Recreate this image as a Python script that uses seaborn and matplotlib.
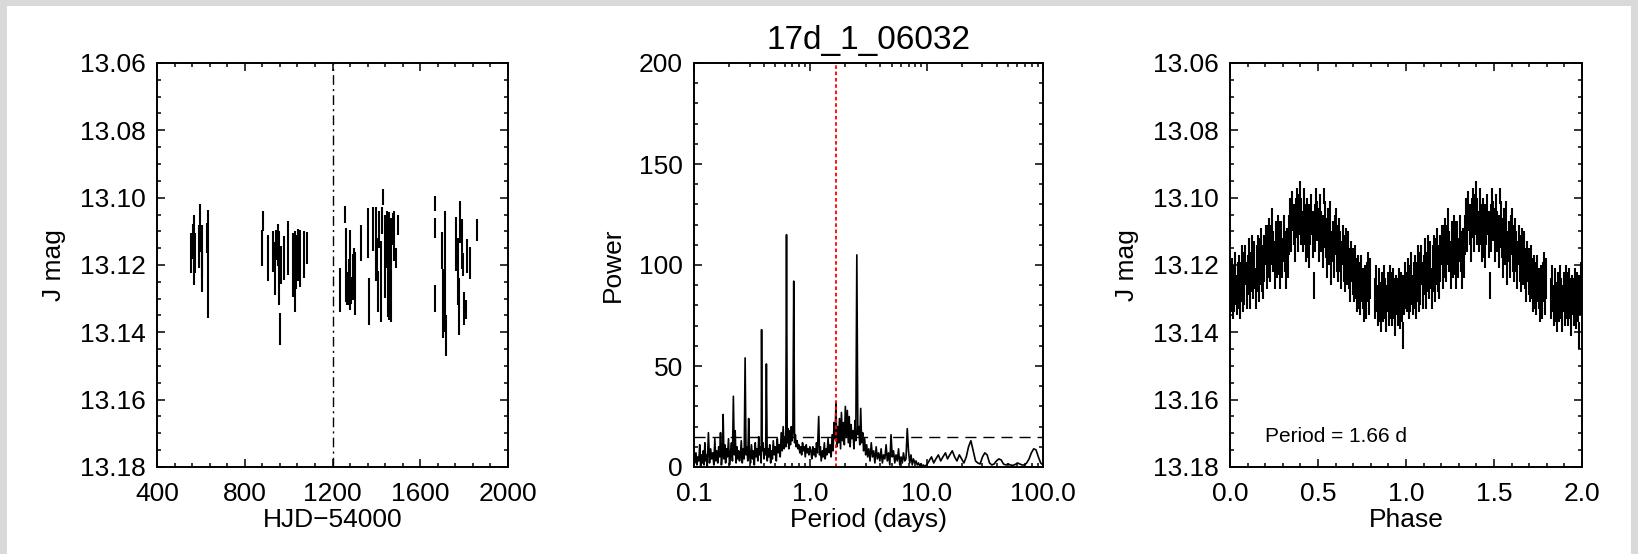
import numpy as np
import matplotlib
matplotlib.use("Agg")
import matplotlib.pyplot as plt
from matplotlib.patches import Rectangle
from matplotlib.ticker import MultipleLocator, FixedLocator, FormatStrFormatter, LogLocator, NullFormatter
import seaborn as sns
import pandas as pd

# ---------------- data ----------------
TITLE = "17d_1_06032"
PERIOD_TEXT = "Period = 1.66 d"
BEST_PERIOD = 1.66
FAP_LEVEL = 15
EPOCH_LINE = 1200

# light curve (HJD-54000, J mag, error)
hjd = [553, 562, 568, 574, 592, 598, 603, 607, 626, 633,
       879, 885, 906, 929, 936, 944, 951, 956, 962, 966, 977, 998, 1022, 1029, 1035, 1044, 1053, 1068, 1083,
       1236, 1259, 1262, 1268, 1274, 1280, 1286, 1292, 1298, 1304, 1329, 1360, 1368, 1386, 1398, 1403, 1409,
       1413, 1419, 1425, 1431, 1439, 1447, 1453, 1459, 1466, 1474, 1481, 1489, 1497,
       1666, 1667, 1668, 1701, 1704, 1712, 1716, 1765, 1771, 1777, 1783, 1789, 1795, 1801, 1810, 1815, 1827, 1860]
jmag = [13.1165, 13.113, 13.1155, 13.1165, 13.1145, 13.109, 13.122, 13.116, 13.112, 13.1197,
        13.115, 13.107, 13.118, 13.116, 13.121, 13.114, 13.114, 13.121, 13.139, 13.120, 13.118, 13.115, 13.120,
        13.122, 13.119, 13.117, 13.118, 13.117, 13.115,
        13.1275, 13.105, 13.120, 13.127, 13.125, 13.1215, 13.1275, 13.1235, 13.1225, 13.1255, 13.1135, 13.1105,
        13.1309, 13.1094, 13.1139, 13.1169, 13.1279, 13.1094, 13.1249, 13.1069, 13.0997, 13.1174, 13.1124,
        13.1199, 13.1204, 13.1214, 13.1094, 13.1114, 13.1179, 13.108,
        13.1018, 13.1089, 13.130, 13.1158, 13.1314, 13.122, 13.141, 13.1138, 13.122, 13.1323, 13.1073, 13.1138,
        13.1198, 13.1329, 13.1333, 13.1173, 13.1195, 13.1096]
jerr = [0.006, 0.0053, 0.0105, 0.006, 0.0065, 0.007, 0.006, 0.008, 0.0045, 0.016,
        0.0053, 0.003, 0.0068, 0.006, 0.0078, 0.0045, 0.0063, 0.011, 0.0048, 0.0055, 0.0065, 0.008, 0.0095,
        0.012, 0.008, 0.0078, 0.0085, 0.007, 0.0048,
        0.0065, 0.0025, 0.011, 0.005, 0.0068, 0.0118, 0.004, 0.0068, 0.0075, 0.0093, 0.0053, 0.0075,
        0.007, 0.0065, 0.011, 0.005, 0.006, 0.0055, 0.012, 0.004, 0.0024, 0.0123, 0.0085,
        0.0155, 0.016, 0.0155, 0.0048, 0.0073, 0.003, 0.003,
        0.0023, 0.003, 0.004, 0.0055, 0.0103, 0.018, 0.006, 0.008, 0.010, 0.0085, 0.0063, 0.0075,
        0.0035, 0.005, 0.0028, 0.005, 0.0048, 0.0033]

# periodogram (period in days, power), read in sections
period_a = [0.100, 0.102, 0.104, 0.106, 0.108, 0.110, 0.112, 0.114, 0.116, 0.118,
            0.120, 0.122, 0.124, 0.126, 0.128, 0.130, 0.133, 0.136, 0.139, 0.142,
            0.145, 0.148, 0.151, 0.154, 0.157, 0.160, 0.163, 0.166, 0.169, 0.172,
            0.175, 0.178, 0.181, 0.184, 0.187, 0.190, 0.194, 0.198, 0.202, 0.206,
            0.210, 0.214, 0.218, 0.222, 0.226, 0.230, 0.234, 0.238, 0.242, 0.246]
power_a = [9, 2, 7, 1, 5, 3, 11, 0.5, 6, 2,
           8, 1, 12, 3, 6, 0.5, 17, 2, 9, 4,
           7, 1, 14, 3, 8, 2, 10, 5, 17, 1,
           6, 26, 4, 11, 2, 9, 5, 14, 1, 7,
           12, 3, 35, 6, 18, 2, 10, 4, 8, 3]
period_b = [0.250, 0.255, 0.260, 0.265, 0.270, 0.275, 0.280, 0.285, 0.290, 0.295,
            0.300, 0.306, 0.312, 0.318, 0.324, 0.330, 0.336, 0.342, 0.348, 0.354,
            0.360, 0.366, 0.372, 0.378, 0.381, 0.385, 0.392, 0.399, 0.406, 0.413,
            0.419, 0.426, 0.433, 0.440, 0.448, 0.456, 0.464, 0.472, 0.480, 0.490,
            0.500, 0.510, 0.520, 0.530, 0.540, 0.551, 0.562, 0.573, 0.584, 0.595,
            0.606, 0.615, 0.624, 0.633, 0.642, 0.653, 0.664, 0.675, 0.686, 0.697,
            0.708, 0.720, 0.732, 0.744, 0.757, 0.770, 0.784, 0.798, 0.812, 0.827,
            0.842, 0.857, 0.873, 0.889, 0.905, 0.922, 0.939, 0.956, 0.973, 0.990]
power_b = [5, 13, 2, 9, 4, 54, 6, 10, 3, 24,
           7, 2, 11, 4, 8, 1, 12, 5, 9, 3,
           15, 6, 10, 2, 68, 8, 12, 4, 9, 6,
           51, 3, 9, 5, 11, 2, 8, 4, 13, 6,
           10, 3, 14, 7, 11, 5, 17, 8, 20, 9,
           15, 10, 115, 12, 19, 9, 18, 11, 20, 13,
           17, 92, 12, 16, 10, 13, 9, 11, 7, 10,
           6, 12, 8, 10, 5, 11, 7, 9, 6, 10]
period_c = [1.01, 1.03, 1.05, 1.07, 1.09, 1.11, 1.13, 1.15, 1.18, 1.20,
            1.22, 1.24, 1.27, 1.29, 1.32, 1.34, 1.37, 1.39, 1.42, 1.45,
            1.48, 1.51, 1.54, 1.57, 1.60, 1.63, 1.66, 1.69, 1.72, 1.75,
            1.78, 1.82, 1.85, 1.89, 1.92, 1.96, 2.00, 2.04, 2.08, 2.12,
            2.16, 2.20, 2.24, 2.28, 2.33, 2.37, 2.42, 2.46, 2.51, 2.56,
            2.61, 2.66, 2.71, 2.76, 2.82, 2.87, 2.93, 2.99, 3.05, 3.11]
power_c = [8, 4, 10, 6, 9, 5, 12, 7, 25, 6,
           10, 3, 8, 5, 12, 4, 9, 6, 14, 7,
           11, 5, 16, 8, 22, 14, 32, 10, 20, 12,
           24, 9, 27, 13, 22, 11, 30, 15, 28, 12,
           25, 10, 21, 14, 18, 9, 23, 13, 105, 16,
           20, 11, 29, 12, 17, 8, 14, 6, 11, 5]
period_d = [3.18, 3.26, 3.34, 3.42, 3.50, 3.59, 3.68, 3.77, 3.86, 3.96,
            4.06, 4.16, 4.26, 4.37, 4.48, 4.59, 4.70, 4.82, 4.94, 5.06,
            5.19, 5.32, 5.45, 5.59, 5.73, 5.87, 6.02, 6.17, 6.32, 6.48,
            6.64, 6.81, 6.98, 7.15, 7.33, 7.52, 7.70, 7.90, 8.10, 8.30,
            8.50, 8.72, 8.93, 9.16, 9.38, 9.62, 9.86]
power_d = [9, 3, 12, 5, 8, 2, 10, 4, 7, 3,
           9, 2, 6, 4, 11, 3, 7, 1, 16, 5,
           8, 2, 6, 3, 9, 1, 5, 2, 7, 3,
           4, 19, 8, 2, 6, 1, 4, 2, 3, 1,
           2, 0.5, 1.5, 0.5, 1, 0.3, 0.8]
period_e = [10.0, 10.5, 11.0, 11.5, 12.0, 12.6, 13.2, 13.8, 14.5, 15.1,
            15.8, 16.6, 17.4, 18.2, 19.1, 20.0, 20.9, 21.9, 22.9, 24.0,
            25.1, 26.3, 27.5, 28.8, 30.2, 31.6, 33.1, 34.7, 36.3, 38.0,
            39.8, 41.7, 43.7, 45.7, 47.9, 50.1, 52.5, 55.0, 57.5, 60.3,
            63.1, 66.1, 69.2, 72.4, 75.9, 79.4, 83.2, 87.1, 91.2, 95.5, 100.0]
power_e = [1, 3, 5, 2, 4, 6, 3, 5, 7, 4,
           6, 8, 5, 3, 6, 4, 2, 5, 10, 13,
           8, 3, 2, 1.5, 5, 7, 6, 2, 1, 1.5,
           3, 4, 3.5, 1.5, 1, 1.5, 1, 0.8, 1.2, 2,
           1.5, 1, 1, 2, 4, 7, 9, 8.5, 5, 2, 1]

# phase-folded light curve (phase, J mag, error) for one cycle
phase = [0.005, 0.012, 0.018, 0.025, 0.031, 0.038, 0.044, 0.050, 0.057, 0.063,
         0.069, 0.075, 0.082, 0.088, 0.094, 0.101, 0.107, 0.113, 0.120, 0.126,
         0.132, 0.139, 0.145, 0.151, 0.158, 0.164, 0.170, 0.177, 0.183, 0.190,
         0.196, 0.203, 0.209, 0.215, 0.222, 0.228, 0.234, 0.241, 0.247, 0.253,
         0.260, 0.266, 0.272, 0.279, 0.285, 0.291, 0.298, 0.304, 0.310, 0.317,
         0.323, 0.329, 0.336, 0.342, 0.348, 0.355, 0.361, 0.367, 0.374, 0.380,
         0.386, 0.393, 0.399, 0.405, 0.412, 0.418, 0.424, 0.431, 0.437, 0.443,
         0.450, 0.456, 0.462, 0.469, 0.475, 0.481, 0.488, 0.494, 0.507, 0.513,
         0.519, 0.526, 0.532, 0.538, 0.545, 0.551, 0.557, 0.564, 0.570, 0.576,
         0.583, 0.589, 0.595, 0.602, 0.608, 0.614, 0.621, 0.627, 0.633, 0.640,
         0.646, 0.652, 0.659, 0.665, 0.671, 0.678, 0.684, 0.690, 0.697, 0.703,
         0.709, 0.716, 0.722, 0.728, 0.735, 0.741, 0.747, 0.754, 0.760, 0.766,
         0.773, 0.779, 0.785, 0.792, 0.798, 0.826, 0.832, 0.839, 0.845, 0.851,
         0.857, 0.864, 0.870, 0.876, 0.883, 0.889, 0.895, 0.902, 0.908, 0.914,
         0.921, 0.927, 0.933, 0.940, 0.946, 0.952, 0.959, 0.965, 0.971, 0.978,
         0.984, 0.990, 0.997]
phase_mag = [13.128, 13.125, 13.130, 13.127, 13.124, 13.129, 13.126, 13.123, 13.128, 13.125,
             13.121, 13.127, 13.124, 13.120, 13.126, 13.123, 13.119, 13.125, 13.122, 13.118,
             13.124, 13.120, 13.127, 13.121, 13.117, 13.123, 13.119, 13.115, 13.121, 13.124,
             13.118, 13.114, 13.120, 13.116, 13.112, 13.118, 13.114, 13.110, 13.116, 13.120,
             13.113, 13.117, 13.111, 13.115, 13.121, 13.114, 13.118, 13.112, 13.116, 13.120,
             13.115, 13.117, 13.111, 13.106, 13.109, 13.104, 13.108, 13.112, 13.106, 13.103,
             13.109, 13.105, 13.101, 13.107, 13.110, 13.104, 13.108, 13.112, 13.106, 13.110,
             13.114, 13.108, 13.105, 13.111, 13.126, 13.109, 13.103, 13.107, 13.111, 13.106,
             13.110, 13.113, 13.0995, 13.108, 13.112, 13.116, 13.110, 13.114, 13.108, 13.118,
             13.113, 13.117, 13.111, 13.106, 13.115, 13.119, 13.113, 13.116, 13.120, 13.114,
             13.118, 13.122, 13.116, 13.120, 13.117, 13.121, 13.124, 13.119, 13.122, 13.125,
             13.121, 13.124, 13.127, 13.123, 13.126, 13.129, 13.124, 13.127, 13.130, 13.126,
             13.129, 13.125, 13.122, 13.128, 13.124, 13.130, 13.127, 13.132, 13.128, 13.131,
             13.134, 13.129, 13.131, 13.127, 13.130, 13.133, 13.128, 13.131, 13.126, 13.129,
             13.132, 13.128, 13.130, 13.134, 13.129, 13.131, 13.127, 13.132, 13.128, 13.130,
             13.141, 13.129, 13.126]
phase_err = [0.006, 0.007, 0.006, 0.007, 0.008, 0.006, 0.007, 0.006, 0.008, 0.006,
             0.007, 0.007, 0.008, 0.006, 0.007, 0.006, 0.007, 0.008, 0.006, 0.007,
             0.006, 0.007, 0.006, 0.007, 0.006, 0.008, 0.007, 0.006, 0.007, 0.006,
             0.007, 0.006, 0.007, 0.008, 0.006, 0.007, 0.006, 0.007, 0.006, 0.007,
             0.006, 0.007, 0.006, 0.008, 0.006, 0.007, 0.006, 0.007, 0.006, 0.007,
             0.006, 0.007, 0.006, 0.006, 0.007, 0.006, 0.006, 0.007, 0.006, 0.006,
             0.007, 0.006, 0.006, 0.007, 0.006, 0.007, 0.006, 0.007, 0.006, 0.008,
             0.007, 0.006, 0.006, 0.007, 0.004, 0.007, 0.006, 0.006, 0.008, 0.007,
             0.006, 0.008, 0.0025, 0.007, 0.006, 0.008, 0.007, 0.006, 0.007, 0.008,
             0.006, 0.007, 0.006, 0.003, 0.007, 0.006, 0.007, 0.006, 0.007, 0.006,
             0.007, 0.006, 0.007, 0.006, 0.007, 0.006, 0.007, 0.006, 0.007, 0.006,
             0.007, 0.006, 0.007, 0.006, 0.007, 0.006, 0.007, 0.006, 0.007, 0.006,
             0.007, 0.006, 0.006, 0.007, 0.006, 0.006, 0.007, 0.006, 0.007, 0.006,
             0.006, 0.007, 0.006, 0.007, 0.006, 0.007, 0.006, 0.007, 0.006, 0.007,
             0.006, 0.007, 0.006, 0.007, 0.006, 0.007, 0.006, 0.007, 0.006, 0.007,
             0.004, 0.006, 0.007]

# ---------------- style ----------------
sns.set_theme(style="ticks")
plt.rcParams["font.family"] = ["Liberation Sans", "DejaVu Sans"]
plt.rcParams["axes.linewidth"] = 1.4
plt.rcParams["axes.edgecolor"] = "black"
plt.rcParams["text.color"] = "black"
plt.rcParams["axes.labelcolor"] = "black"
plt.rcParams["xtick.color"] = "black"
plt.rcParams["ytick.color"] = "black"

FS = 19
W, H = 1638, 554
fig = plt.figure(figsize=(W / 100, H / 100), dpi=100)
fig.patch.set_facecolor("#d9d9d9")
fig.add_artist(Rectangle((7 / W, 0), (1631 - 7) / W, 548 / H, transform=fig.transFigure,
                         facecolor="white", edgecolor="none", zorder=-10))

bottom = (H - 467) / H
height = 404 / H
ax1 = fig.add_axes([157 / W, bottom, 351 / W, height])
ax2 = fig.add_axes([694 / W, bottom, 349 / W, height])
ax3 = fig.add_axes([1230 / W, bottom, 352 / W, height])


def style_axes(ax):
    ax.tick_params(which="both", direction="in", top=True, right=True, width=1.1,
                   labelsize=FS, color="black")
    ax.tick_params(axis="y", which="both", pad=8)
    ax.tick_params(axis="x", which="both", pad=11)
    ax.tick_params(which="major", length=5.8)
    ax.tick_params(which="minor", length=3.2)
    for s in ax.spines.values():
        s.set_visible(True)
        s.set_linewidth(1.4)


# ---- panel 1: light curve ----
ax1.errorbar(hjd, jmag, yerr=jerr, fmt="none", ecolor="black", elinewidth=1.5, capsize=0)
ax1.axvline(EPOCH_LINE, color="black", lw=1.0, ls=(0, (7, 3, 1.5, 3)))
ax1.set_xlim(400, 2000)
ax1.set_ylim(13.18, 13.06)
ax1.xaxis.set_major_locator(FixedLocator([400, 800, 1200, 1600, 2000]))
ax1.xaxis.set_minor_locator(MultipleLocator(80))
ax1.yaxis.set_major_locator(MultipleLocator(0.02))
ax1.yaxis.set_minor_locator(MultipleLocator(0.005))
ax1.yaxis.set_major_formatter(FormatStrFormatter("%.2f"))
ax1.set_xlabel("HJD\u221254000", fontsize=FS, labelpad=1)
ax1.set_ylabel("J mag", fontsize=FS, labelpad=10)
style_axes(ax1)

# ---- panel 2: periodogram ----
pg = pd.DataFrame({
    "period": period_a + period_b + period_c + period_d + period_e,
    "power": power_a + power_b + power_c + power_d + power_e,
})
ax2.set_xscale("log")
sns.lineplot(data=pg, x="period", y="power", ax=ax2, color="black", linewidth=1.2,
             estimator=None, sort=False)
ax2.axhline(FAP_LEVEL, color="black", lw=1.0, ls=(0, (8, 5)))
ax2.axvline(BEST_PERIOD, color="red", lw=1.3, ls=(0, (2, 1.5)))
ax2.set_xlim(0.1, 100)
ax2.set_ylim(0, 200)
ax2.xaxis.set_major_locator(FixedLocator([0.1, 1, 10, 100]))
ax2.xaxis.set_major_formatter(FormatStrFormatter("%.1f"))
ax2.xaxis.set_minor_locator(LogLocator(base=10, subs=np.arange(2, 10)))
ax2.xaxis.set_minor_formatter(NullFormatter())
ax2.yaxis.set_major_locator(MultipleLocator(50))
ax2.yaxis.set_minor_locator(MultipleLocator(10))
ax2.set_xlabel("Period (days)", fontsize=FS, labelpad=1)
ax2.set_ylabel("Power", fontsize=FS, labelpad=10)
ax2.set_title(TITLE, fontsize=24, pad=10)
style_axes(ax2)

# ---- panel 3: phased light curve (two cycles) ----
ph = np.array(phase)
ax3.errorbar(np.concatenate([ph, ph + 1]), phase_mag + phase_mag, yerr=phase_err + phase_err,
             fmt="none", ecolor="black", elinewidth=1.5, capsize=0)
ax3.set_xlim(0, 2)
ax3.set_ylim(13.18, 13.06)
ax3.xaxis.set_major_locator(MultipleLocator(0.5))
ax3.xaxis.set_minor_locator(MultipleLocator(0.1))
ax3.xaxis.set_major_formatter(FormatStrFormatter("%.1f"))
ax3.yaxis.set_major_locator(MultipleLocator(0.02))
ax3.yaxis.set_minor_locator(MultipleLocator(0.005))
ax3.yaxis.set_major_formatter(FormatStrFormatter("%.2f"))
ax3.text(0.2, 13.171, PERIOD_TEXT, fontsize=15, va="center", ha="left")
ax3.set_xlabel("Phase", fontsize=FS, labelpad=1)
ax3.set_ylabel("J mag", fontsize=FS, labelpad=10)
style_axes(ax3)

fig.savefig("out.png", dpi=100, facecolor=fig.get_facecolor())
